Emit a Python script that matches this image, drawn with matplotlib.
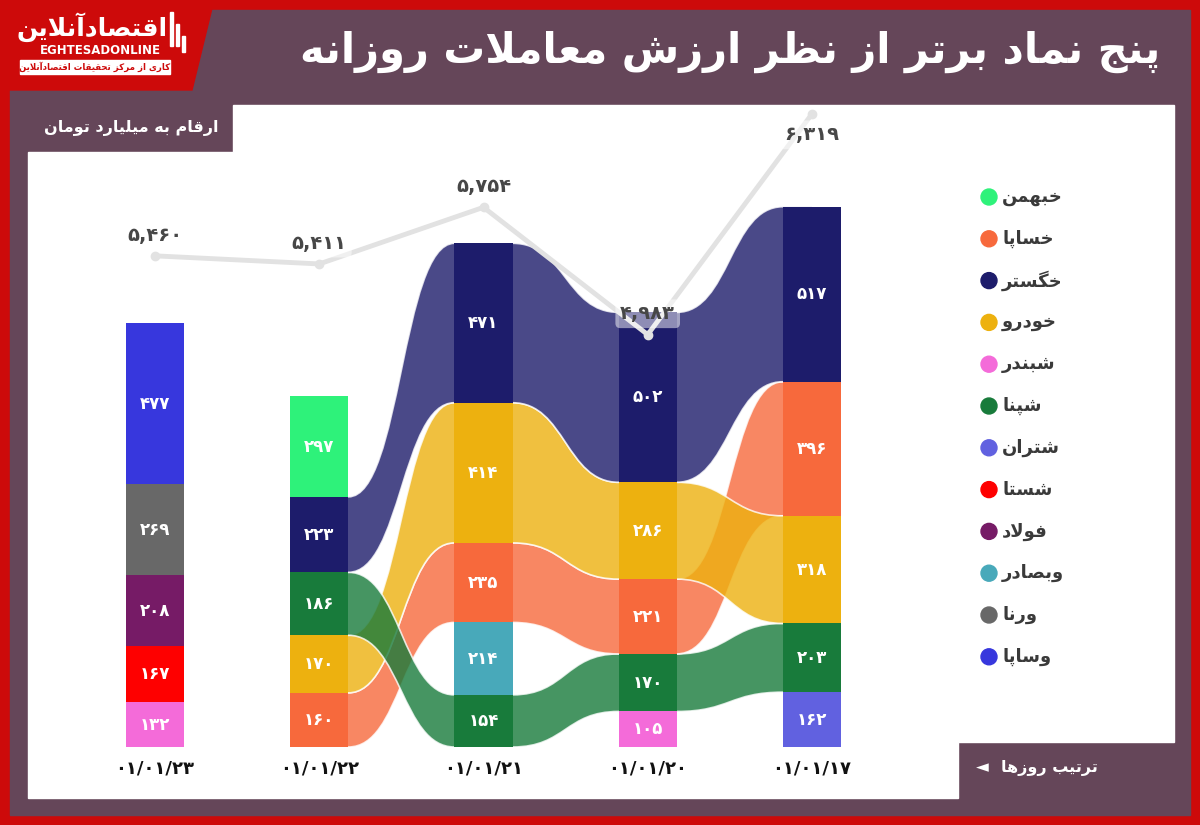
#top 5 symbols by daily trade value - ribbon chart with total line on top
import numpy as np
import matplotlib
matplotlib.use("Agg")
import matplotlib.pyplot as plt
from matplotlib.path import Path
from matplotlib.patches import PathPatch, Rectangle, Polygon, Circle

#data
dates = ["۰۱/۰۱/۲۳", "۰۱/۰۱/۲۲", "۰۱/۰۱/۲۱", "۰۱/۰۱/۲۰", "۰۱/۰۱/۱۷"]
stack_symbols = [
    ["شبندر", "شستا", "فولاد", "ورنا", "وساپا"],
    ["خساپا", "خودرو", "شپنا", "خگستر", "خبهمن"],
    ["شپنا", "وبصادر", "خساپا", "خودرو", "خگستر"],
    ["شبندر", "شپنا", "خساپا", "خودرو", "خگستر"],
    ["شتران", "شپنا", "خودرو", "خساپا", "خگستر"],
]
stack_values = [
    [132, 167, 208, 269, 477],
    [160, 170, 186, 223, 297],
    [154, 214, 235, 414, 471],
    [105, 170, 221, 286, 502],
    [162, 203, 318, 396, 517],
]
totals = [5460, 5411, 5754, 4983, 6319]

legend_symbols = ["خبهمن", "خساپا", "خگستر", "خودرو", "شبندر", "شپنا",
                  "شتران", "شستا", "فولاد", "وبصادر", "ورنا", "وساپا"]
legend_colors = ["#2ef27a", "#f7693c", "#1d1c6b", "#edb10f", "#f46bd9", "#187b3b",
                 "#6161e0", "#fe0000", "#761b66", "#48a9ba", "#686868", "#3737dd"]
colors = dict(zip(legend_symbols, legend_colors))

title = "پنج نماد برتر از نظر ارزش معاملات روزانه"
subtitle = "ارقام به میلیارد تومان"
order_note = "ترتیب روزها"
logo_main = "اقتصادآنلاین"
logo_sub = "کاری از مرکز تحقیقات اقتصادآنلاین"

#minimal persian shaping (matplotlib has no bidi / shaping)
FORMS = {
    "ا": "\uFE8D\uFE8E", "آ": "\uFE81\uFE82",
    "ب": "\uFE8F\uFE90\uFE91\uFE92", "پ": "\uFB56\uFB57\uFB58\uFB59",
    "ت": "\uFE95\uFE96\uFE97\uFE98", "ج": "\uFE9D\uFE9E\uFE9F\uFEA0",
    "ح": "\uFEA1\uFEA2\uFEA3\uFEA4", "خ": "\uFEA5\uFEA6\uFEA7\uFEA8",
    "د": "\uFEA9\uFEAA", "ر": "\uFEAD\uFEAE", "ز": "\uFEAF\uFEB0",
    "س": "\uFEB1\uFEB2\uFEB3\uFEB4", "ش": "\uFEB5\uFEB6\uFEB7\uFEB8",
    "ص": "\uFEB9\uFEBA\uFEBB\uFEBC", "ظ": "\uFEC5\uFEC6\uFEC7\uFEC8",
    "ع": "\uFEC9\uFECA\uFECB\uFECC", "ف": "\uFED1\uFED2\uFED3\uFED4",
    "ق": "\uFED5\uFED6\uFED7\uFED8", "ک": "\uFB8E\uFB8F\uFB90\uFB91",
    "گ": "\uFB92\uFB93\uFB94\uFB95", "ل": "\uFEDD\uFEDE\uFEDF\uFEE0",
    "م": "\uFEE1\uFEE2\uFEE3\uFEE4", "ن": "\uFEE5\uFEE6\uFEE7\uFEE8",
    "ه": "\uFEE9\uFEEA\uFEEB\uFEEC", "و": "\uFEED\uFEEE",
    "ی": "\uFBFC\uFBFD\uFBFE\uFBFF",
}
LAM_ALEF = {"ا": "\uFEFB\uFEFC", "آ": "\uFEF5\uFEF6"}


def fa(text):
    out = []
    i = 0
    n = len(text)
    while i < n:
        c = text[i]
        prev = text[i - 1] if i > 0 else ""
        joins_prev = len(FORMS.get(prev, "")) == 4
        if c == "ل" and i + 1 < n and text[i + 1] in LAM_ALEF:
            out.append(LAM_ALEF[text[i + 1]][1 if joins_prev else 0])
            i += 2
            continue
        forms = FORMS.get(c)
        if forms is None:
            out.append(c)
            i += 1
            continue
        nxt = text[i + 1] if i + 1 < n else ""
        joins_next = len(forms) == 4 and nxt in FORMS
        if joins_prev and joins_next:
            out.append(forms[3])
        elif joins_prev:
            out.append(forms[1])
        elif joins_next:
            out.append(forms[2])
        else:
            out.append(forms[0])
        i += 1
    return "".join(reversed(out))


FA_DIGITS = str.maketrans("0123456789", "۰۱۲۳۴۵۶۷۸۹")


def fa_num(v):
    return f"{v:,}".translate(FA_DIGITS)


plt.rcParams["font.family"] = ["DejaVu Sans"]
RED = "#cd0a0a"
MAUVE = "#654659"

fig = plt.figure(figsize=(12, 8.25), dpi=100)

#background frame drawn in pixel coords
bg = fig.add_axes([0, 0, 1, 1])
bg.set_xlim(0, 1200)
bg.set_ylim(825, 0)
bg.axis("off")
bg.add_patch(Rectangle((0, 0), 1200, 825, color=RED))
bg.add_patch(Rectangle((10, 10), 1180, 805, color=MAUVE))
bg.add_patch(Polygon([(0, 0), (214, 0), (192, 90), (0, 90)], color=RED))
bg.add_patch(Polygon([(28, 152), (233, 152), (233, 105), (1174, 105), (1174, 742),
                      (958, 742), (958, 798), (28, 798)], color="white"))

bg.text(1160, 52, fa(title), color="white", fontsize=30, fontweight="bold",
        ha="right", va="center")
bg.text(218, 128, fa(subtitle), color="white", fontsize=11.5, fontweight="bold",
        ha="right", va="center")
bg.text(1098, 768, fa(order_note), color="white", fontsize=11.5, fontweight="bold",
        ha="right", va="center")
bg.text(982, 767, "\u25C4", color="white", fontsize=12, ha="center", va="center")

#logo
bg.text(92, 27, fa(logo_main), color="white", fontsize=18, fontweight="bold",
        ha="center", va="center")
for bx, by, bh in [(170, 12, 34), (176, 24, 22), (182, 36, 16)]:
    bg.add_patch(Rectangle((bx, by), 3, bh, color="white"))
bg.text(100, 51, "EGHTESADONLINE", color="white", fontsize=8.5, fontweight="bold",
        ha="center", va="center")
bg.add_patch(Rectangle((20, 60), 150, 14, color="white"))
bg.text(95, 67, fa(logo_sub), color=RED, fontsize=6.2, fontweight="bold",
        ha="center", va="center")

#legend
for i, (sym, col) in enumerate(zip(legend_symbols, legend_colors)):
    y = 197 + 41.8 * i
    bg.add_patch(Circle((989, y), 8, color=col))
    bg.text(1002, y, fa(sym), color="#3a3a3a", fontsize=13, fontweight="bold",
            ha="left", va="center")

#main chart axes
ax = fig.add_axes([73 / 1200, 78 / 825, 821 / 1200, 647 / 825])
ax.patch.set_visible(False)
ax.set_xlim(-0.5, 4.5)
ax.set_ylim(0, 647 / 0.3385)
bar_w = 0.354

x = np.arange(len(dates))
seg_pos = []  #per column: symbol -> (bottom, top)
for i, (syms, vals) in enumerate(zip(stack_symbols, stack_values)):
    bottoms = np.concatenate([[0], np.cumsum(vals)[:-1]])
    ax.bar([i] * len(vals), vals, bottom=bottoms, width=bar_w,
           color=[colors[s] for s in syms], zorder=3)
    pos = {}
    for s, v, b in zip(syms, vals, bottoms):
        pos[s] = (b, b + v)
        ax.text(i, b + v / 2, fa_num(v), color="white", fontsize=12,
                fontweight="bold", ha="center", va="center", zorder=4)
    seg_pos.append(pos)

#ribbons between neighbouring columns for shared symbols
for i in range(len(dates) - 1):
    left, right = seg_pos[i], seg_pos[i + 1]
    x0, x1 = i + bar_w / 2, i + 1 - bar_w / 2
    xm = (x0 + x1) / 2
    for s in left:
        if s not in right:
            continue
        b0, t0 = left[s]
        b1, t1 = right[s]
        verts = [(i, b0), (i, t0), (x0, t0),
                 (xm, t0), (xm, t1), (x1, t1),
                 (i + 1, t1), (i + 1, b1), (x1, b1),
                 (xm, b1), (xm, b0), (x0, b0), (i, b0)]
        codes = [Path.MOVETO, Path.LINETO, Path.LINETO,
                 Path.CURVE4, Path.CURVE4, Path.CURVE4,
                 Path.LINETO, Path.LINETO, Path.LINETO,
                 Path.CURVE4, Path.CURVE4, Path.CURVE4, Path.CLOSEPOLY]
        ax.add_patch(PathPatch(Path(verts, codes), facecolor=colors[s], alpha=0.8,
                               edgecolor="white", lw=1.2, zorder=2))

ax.set_xticks(x, dates)
ax.tick_params(axis="x", length=0, pad=9, labelsize=13, labelcolor="#111111")
for lbl in ax.get_xticklabels():
    lbl.set_fontweight("bold")
ax.set_yticks([])
for sp in ax.spines.values():
    sp.set_visible(False)

#total value line
ax2 = ax.twinx()
ax2.set_ylim(2485, 6404)
ax2.set_yticks([])
for sp in ax2.spines.values():
    sp.set_visible(False)
ax2.plot(x, totals, color="#e2e2e2", lw=3.5, marker="o", ms=6,
         solid_joinstyle="miter", zorder=5)
for i, t in enumerate(totals):
    dy = -15 if i == len(totals) - 1 else 15
    ax2.annotate(fa_num(t), (i, t), xytext=(0, dy), textcoords="offset points",
                 ha="center", va="center", fontsize=14, fontweight="bold",
                 color="#474747", zorder=6,
                 bbox=dict(boxstyle="round,pad=0.25", facecolor="white",
                           alpha=0.5, edgecolor="none"))

fig.savefig("out.png", dpi=100)
